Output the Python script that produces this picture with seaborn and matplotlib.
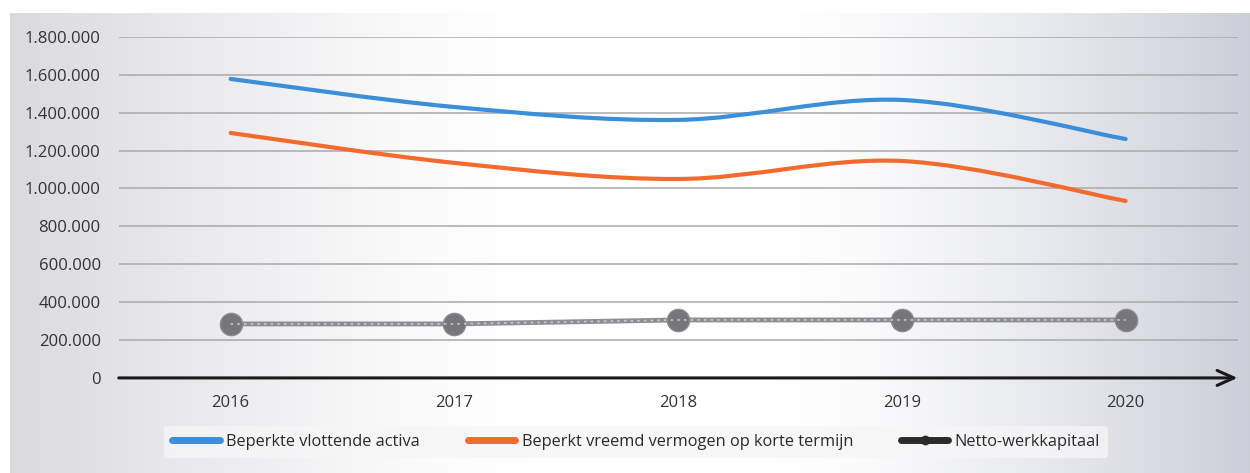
import numpy as np
import pandas as pd
import matplotlib
matplotlib.use("Agg")
import matplotlib.pyplot as plt
import seaborn as sns
from matplotlib.path import Path
from matplotlib.patches import PathPatch
from matplotlib.lines import Line2D
from matplotlib.ticker import FuncFormatter, MultipleLocator

years = ["2016", "2017", "2018", "2019", "2020"]
vlottende_activa = [1578000, 1430000, 1362000, 1467000, 1261000]
vreemd_vermogen = [1293000, 1135000, 1050000, 1145000, 934000]
netto_werkkapitaal = [285000, 285000, 306000, 306000, 306000]

series_names = ["Beperkte vlottende activa",
                "Beperkt vreemd vermogen op korte termijn",
                "Netto-werkkapitaal"]
colors = ["#3a8fd8", "#f26a2e", "#2b2b2b"]

sns.set_theme(style="white")
plt.rcParams["font.family"] = ["Open Sans", "DejaVu Sans"]

fig = plt.figure(figsize=(12.5, 4.73), dpi=100)

# scanned-paper gradient background
bg = fig.add_axes([0, 0, 1, 1], zorder=-10)
w = 1250
xs = np.linspace(0, 1, w)
left = np.clip((0.42 - xs) / 0.42, 0, 1)
right = np.clip((xs - 0.62) / 0.38, 0, 1)
r = 1 - 0.15 * left ** 1.3 - 0.20 * right ** 1.4
g = 1 - 0.15 * left ** 1.3 - 0.19 * right ** 1.4
b = 1 - 0.13 * left ** 1.3 - 0.15 * right ** 1.4
img = np.stack([r, g, b], axis=-1)[None, :, :].repeat(473, axis=0)
img[:14, :, :] = 1.0
img[:, :10, :] = 1.0
bg.imshow(img, aspect="auto", extent=[0, 1, 0, 1])
bg.set_axis_off()

ax = fig.add_axes([0.095, 0.201, 0.895, 0.721])
ax.set_facecolor("none")

x = np.arange(len(years))


def smooth_path(xv, yv):
    pts = np.column_stack([xv, yv]).astype(float)
    n = len(pts)
    verts = [pts[0]]
    codes = [Path.MOVETO]
    for i in range(n - 1):
        p0 = pts[i - 1] if i > 0 else pts[i]
        p1 = pts[i]
        p2 = pts[i + 1]
        p3 = pts[i + 2] if i + 2 < n else pts[i + 1]
        c1 = p1 + (p2 - p0) / 6.0
        c2 = p2 - (p3 - p1) / 6.0
        verts += [c1, c2, p2]
        codes += [Path.CURVE4] * 3
    return Path(verts, codes)


for vals, col in [(vlottende_activa, colors[0]), (vreemd_vermogen, colors[1])]:
    patch = PathPatch(smooth_path(x, vals), fill=False, edgecolor=col,
                      linewidth=3.0, capstyle="round", transform=ax.transData,
                      zorder=3)
    ax.add_patch(patch)

df_net = pd.DataFrame({"x": x, "v": netto_werkkapitaal})
sns.lineplot(data=df_net, x="x", y="v", ax=ax, color="#8e8e92", linewidth=3.5,
             marker="o", markersize=16, markerfacecolor="#76767b",
             markeredgecolor="#8a8a8f", markeredgewidth=1, zorder=4)
ax.plot(x, netto_werkkapitaal, color="#d8d8dc", linewidth=1.2,
        linestyle=(0, (1.5, 2.5)), zorder=4.5, alpha=0.8)

ax.set_xlim(-0.5, 4.5)
ax.set_ylim(0, 1800000)
ax.yaxis.set_major_locator(MultipleLocator(200000))
ax.yaxis.set_major_formatter(FuncFormatter(lambda v, p: f"{int(v):,}".replace(",", ".")))
ax.set_xticks(x)
ax.set_xticklabels(years)
ax.set_xticks(np.arange(-0.5, 4.0, 1.0), minor=True)
ax.tick_params(axis="x", which="major", length=0, pad=12, labelsize=12, colors="#333333")
ax.tick_params(axis="x", which="minor", length=5, width=2, color="#222222", direction="out")
ax.tick_params(axis="y", length=0, pad=13, labelsize=12, colors="#333333")
for lab in ax.get_yticklabels():
    lab.set_horizontalalignment("right")

ax.set_xlabel("")
ax.set_ylabel("")
ax.grid(axis="y", color="#a9a9ad", linewidth=1.1)
ax.grid(axis="x", visible=False)
for s in ["top", "right", "left", "bottom"]:
    ax.spines[s].set_visible(False)
ax.annotate("", xy=(1.0, 0), xytext=(0.0, 0), xycoords="axes fraction",
            arrowprops=dict(arrowstyle="->,head_length=1.0,head_width=0.45",
                            color="#1a1a1a", lw=2.2, shrinkA=0, shrinkB=0),
            zorder=5, annotation_clip=False)

handles = [Line2D([], [], color=colors[0], linewidth=5),
           Line2D([], [], color=colors[1], linewidth=5),
           Line2D([], [], color=colors[2], linewidth=5, marker="o", markersize=6)]
leg = fig.legend(handles, series_names, loc="center", bbox_to_anchor=(0.509, 0.066),
                 ncol=3, frameon=True, fontsize=11.8, handlelength=2.9,
                 handletextpad=0.4, columnspacing=2.9, borderpad=0.5)
leg.get_frame().set_facecolor("#f6f6f7")
leg.get_frame().set_edgecolor("none")
leg.get_frame().set_alpha(0.8)
for t in leg.get_texts():
    t.set_color("#2a2a2a")

fig.savefig("out.png", dpi=100)
